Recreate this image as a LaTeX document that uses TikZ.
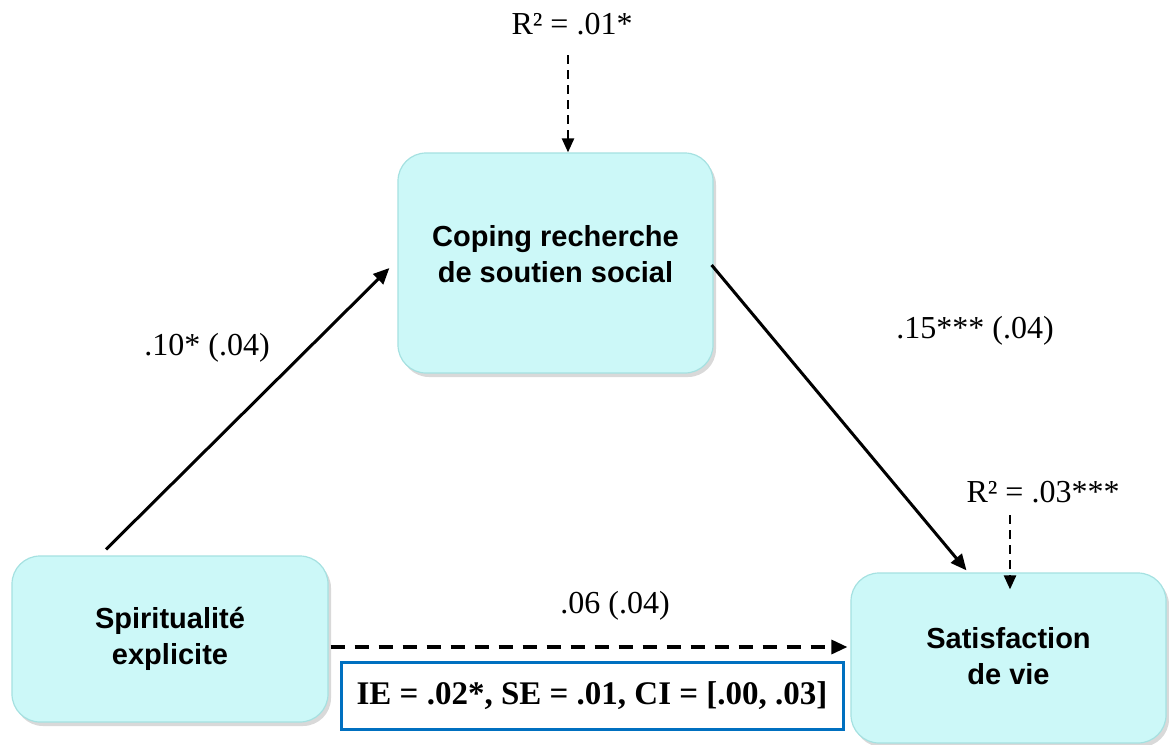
\documentclass[tikz,border=0pt]{standalone}
\usepackage{fontspec}
\setmainfont{Liberation Serif}
\newfontfamily\arialfont{Liberation Sans}
\usetikzlibrary{arrows.meta,calc,shadows}
\definecolor{boxfill}{RGB}{204,248,248}
\definecolor{boxedge}{RGB}{165,225,225}
\definecolor{ieblue}{RGB}{0,112,192}
\begin{document}
\begin{tikzpicture}[x=1pt,y=-1pt,
  varbox/.style={draw=boxedge,line width=1.2pt,fill=boxfill,rounded corners=28pt,
    align=center,font=\arialfont\bfseries\fontsize{29}{36}\selectfont,
    drop shadow={shadow xshift=3pt,shadow yshift=-4pt,opacity=0.3,fill=gray}},
  lbl/.style={font=\fontsize{32}{36}\selectfont,inner sep=0pt},
  solidarrow/.style={line width=3pt,-{Triangle[length=16pt,width=14pt]}},
  hdash/.style={line width=3.2pt,dash pattern=on 14pt off 10pt,-{Triangle[length=16pt,width=14pt]}},
  vdash/.style={line width=2.4pt,dash pattern=on 9pt off 6pt,-{Triangle[length=14pt,width=12pt]}},
  iebox/.style={draw=ieblue,line width=3pt,fill=white,minimum width=502pt,minimum height=67pt,
    font=\bfseries\fontsize{33}{36}\selectfont}
]
\useasboundingbox (0,0) rectangle (1169,744);
\node[varbox,minimum width=315pt,minimum height=220pt] (cope) at (555.5,263) {Coping recherche\\de soutien social\\[-17pt]};
\node[varbox,minimum width=316pt,minimum height=166pt] (spir) at (170,639) {Spiritualité\\explicite};
\node[varbox,minimum width=315pt,minimum height=170pt] (sat) at (1008.5,658) {Satisfaction\\de vie\\[-31pt]};
\node[iebox] (ie) at (592,695.5) {IE = .02*, SE = .01, CI = [.00, .03]};
\node[lbl] (r1) at (572,24) {R² = .01*};
\node[lbl] (r2) at (1043,492) {R² = .03***};
\node[lbl] (la) at (207,348) {.10* (.04)};
\node[lbl] (lb) at (975,331) {.15*** (.04)};
\node[lbl] (lc) at (615,606) {.06 (.04)};
\coordinate (a1) at ($(spir.north)+(-64,-6)$);
\coordinate (a2) at ($(cope.west)+(-8,5)$);
\draw[solidarrow] (a1) -- (a2);
\coordinate (b2) at ($(sat.north)+(-42,-2)$);
\draw[solidarrow] ($(cope.east)+(-2,2)$) -- (b2);
\draw[hdash] ($(spir.east)+(2,8)$) -- ($(sat.west)+(-3,-11)$);
\draw[vdash] ($(r1.south)+(-4,20)$) -- ($(cope.north)+(12.5,0)$);
\draw[vdash] ($(r2.south)+(-33,12)$) -- ($(sat.north)+(1.5,17)$);
\end{tikzpicture}
\end{document}
